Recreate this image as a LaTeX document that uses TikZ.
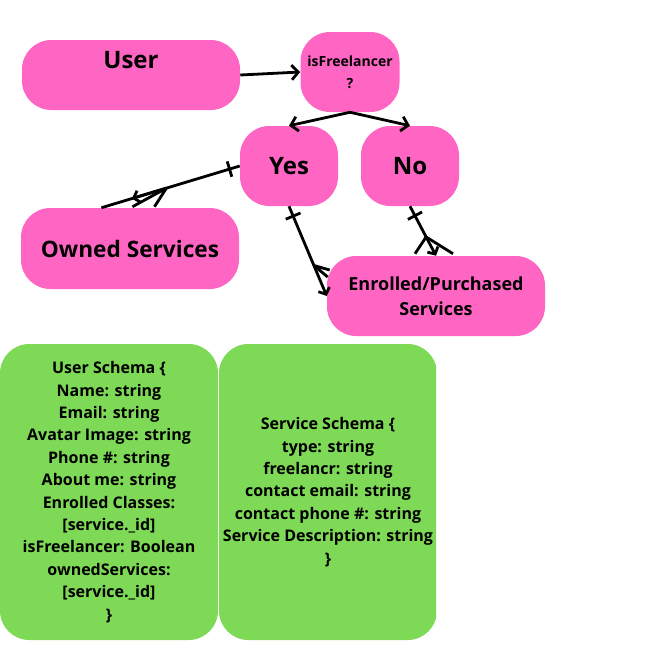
\documentclass[tikz,border=0pt]{standalone}
\usepackage{fontspec}
\setmainfont{Open Sans}
\usetikzlibrary{arrows.meta,decorations.markings,calc}
\definecolor{rosa}{HTML}{FF66C4}
\definecolor{gruen}{HTML}{7ED957}

\begin{document}
\begin{tikzpicture}[x=0.75pt, y=-0.75pt,
    pinkbox/.style={fill=rosa, rounded corners=22pt, inner sep=0pt, align=center},
    greenbox/.style={fill=gruen, rounded corners=22pt, inner sep=0pt, align=center,
        font=\bfseries\fontsize{12}{16.8}\selectfont, minimum width=163.5pt, minimum height=222pt},
    bigfont/.style={font=\bfseries\fontsize{18}{20}\selectfont},
    link/.style={line width=2.1pt, -{Straight Barb[length=5pt,width=11pt]}},
    foot/.style={line width=2.1pt},
    smalltip/.style={-{Straight Barb[length=4pt,width=9pt]}},
    onebar/.style={line width=2.1pt, postaction={decorate, decoration={markings,
        mark=at position 8pt with {\draw[-, line width=2.1pt] (0,-6pt) -- (0,6pt);}}}}]
    \useasboundingbox (0,0) rectangle (651,654);

    % top row
    \node[pinkbox, minimum width=163.5pt, minimum height=52.5pt] (user) at (131,75) {};
    \node[bigfont] (usertext) at (131,60) {User};
    \node[pinkbox, minimum width=74.25pt, minimum height=60pt,
        font=\bfseries\fontsize{10.5}{16.5}\selectfont] (free) at (350,72) {isFreelancer\\?};

    % answers
    \node[pinkbox, bigfont, minimum width=73.5pt, minimum height=60pt] (yes) at (289,166) {Yes};
    \node[pinkbox, bigfont, minimum width=73.5pt, minimum height=60pt] (no) at (410,166) {No};

    % services
    \node[pinkbox, minimum width=163.5pt, minimum height=60.75pt,
        font=\bfseries\fontsize{17}{20}\selectfont] (owned) at (130,248.5) {Owned Services};
    \node[pinkbox, minimum width=163.5pt, minimum height=60pt,
        font=\bfseries\fontsize{13.5}{18.75}\selectfont] (enrolled) at (436,296) {Enrolled/Purchased\\Services};

    % schemas
    \node[greenbox] (userschema) at (109,492) {User Schema \{\\Name: string\\Email: string\\Avatar Image: string\\Phone \#: string\\About me: string\\Enrolled Classes:\\{[service.\_id]}\\isFreelancer: Boolean\\ownedServices:\\{[service.\_id]}\\\}};
    \begin{scope}
        \clip (0,0) rectangle (436,654);
        \node[greenbox] (serviceschema) at (328,492) {Service Schema \{\\type: string\\freelancr: string\\contact email: string\\contact phone \#: string\\Service Description: string\\\}};
    \end{scope}

    % connectors
    \draw[link] (user.east) -- (free.west);
    \draw[link] (free.south) -- (yes.north);
    \draw[link] (free.south) -- (no.north);

    % yes -> owned
    \draw[onebar] (yes.west) -- (owned.125);
    \coordinate (ownedfoot) at ($(yes.west)!0.53!(owned.125)$);
    \coordinate (ownedtip) at ($(yes.west)!0.78!(owned.125)$);
    \draw[foot] (ownedfoot) -- ([shift={(31,-1)}]owned.125) (ownedfoot) -- ([shift={(53,-1)}]owned.125);
    \draw[foot, smalltip] (ownedfoot) -- (ownedtip);

    % yes -> enrolled
    \draw[onebar, smalltip] (yes.south) -- (enrolled.west);
    \coordinate (yesfoot) at ($(yes.south)!0.66!(enrolled.west)$);
    \draw[foot] (yesfoot) -- ([shift={(3,-26)}]enrolled.west) (yesfoot) -- ([shift={(1,-19)}]enrolled.west);

    % no -> enrolled
    \draw[onebar, smalltip] (no.south) -- (enrolled.north);
    \coordinate (nofoot) at ($(no.south)!0.62!(enrolled.north)$);
    \draw[foot] (nofoot) -- ([shift={(-21,-2)}]enrolled.north) (nofoot) -- ([shift={(17,-2)}]enrolled.north);
\end{tikzpicture}
\end{document}
